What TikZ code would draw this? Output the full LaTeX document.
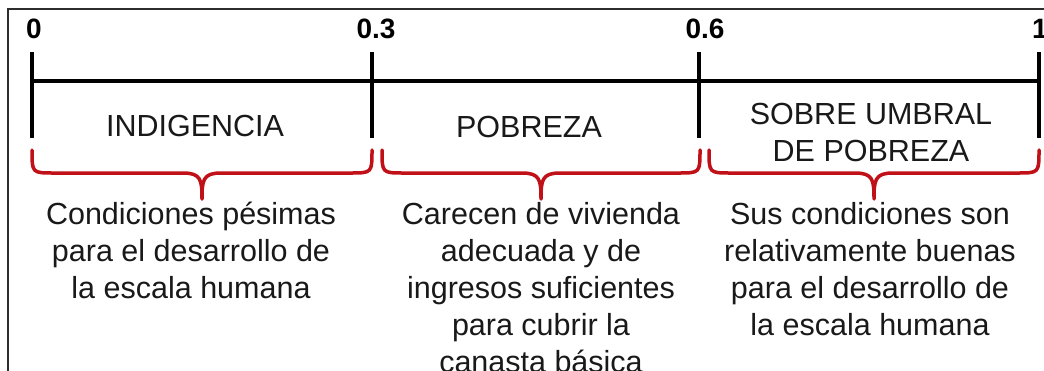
\documentclass[tikz,border=0pt]{standalone}
\usepackage{fontspec}
\setmainfont{Liberation Sans}
\definecolor{bracered}{RGB}{192,16,24}
\definecolor{framegray}{RGB}{45,45,45}
\definecolor{txt}{RGB}{25,25,25}
\newcommand{\mybrace}[2]{%
  \pgfmathsetmacro{\bm}{(#1+#2)/2}%
  \draw[bracestyle] (#1,150) .. controls (#1,173) .. (#1+22,173) -- (\bm-19,173)
    .. controls (\bm-1,173) and (\bm,180) .. (\bm,199)
    .. controls (\bm,180) and (\bm+1,173) .. (\bm+19,173) -- (#2-22,173)
    .. controls (#2,173) .. (#2,150);}
\begin{document}
\begin{tikzpicture}[x=1pt,y=-1pt,
  axisline/.style={line width=3.5pt, black},
  bracestyle/.style={line width=3.5pt, bracered, line cap=round, line join=round},
  numlabel/.style={font=\fontsize{28}{32}\selectfont\bfseries, text=black, inner sep=0pt, anchor=base},
  catlabel/.style={font=\fontsize{30.5}{37}\selectfont, text=txt, inner sep=0pt, align=center},
  desclabel/.style={font=\fontsize{30.5}{37}\selectfont, text=txt, inner sep=0pt, align=center, anchor=north}]
\useasboundingbox (0,0) rectangle (1044,370);
\fill[white] (0,0) rectangle (1044,370);
\draw[framegray, line width=1.5pt] (8,371) -- (8,9) -- (1045,9);
% axis
\coordinate (a0) at (32,81);
\coordinate (a3) at (372,81);
\coordinate (a6) at (699,81);
\coordinate (a1) at (1039,81);
\draw[axisline] (a0) -- (a1);
\foreach \c in {a0,a3,a6,a1} {
  \draw[axisline] ([yshift=29pt]\c) -- ([yshift=-57pt]\c);
}
% numbers
\node[numlabel] (n0) at (34,38) {0};
\node[numlabel] (n3) at (376,38) {0.3};
\node[numlabel] (n6) at (705,38) {0.6};
\node[numlabel, anchor=base west] (n1) at (1032,38) {1};
% categories
\node[catlabel, anchor=base] (c1) at (195,136) {INDIGENCIA};
\node[catlabel, anchor=base] (c2) at (529,137) {POBREZA};
\node[catlabel, anchor=north] (c3) at (871,103) {SOBRE UMBRAL\\DE POBREZA};
% braces
\mybrace{32}{372}
\mybrace{382}{700}
\mybrace{709}{1039}
% descriptions
\node[desclabel] (d1) at (191,202) {Condiciones pésimas\\para el desarrollo de\\la escala humana};
\node[desclabel] (d2) at (541,202) {Carecen de vivienda\\adecuada y de\\ingresos suficientes\\para cubrir la\\canasta básica};
\node[desclabel] (d3) at (870,202) {Sus condiciones son\\relativamente buenas\\para el desarrollo de\\la escala humana};
\end{tikzpicture}
\end{document}
